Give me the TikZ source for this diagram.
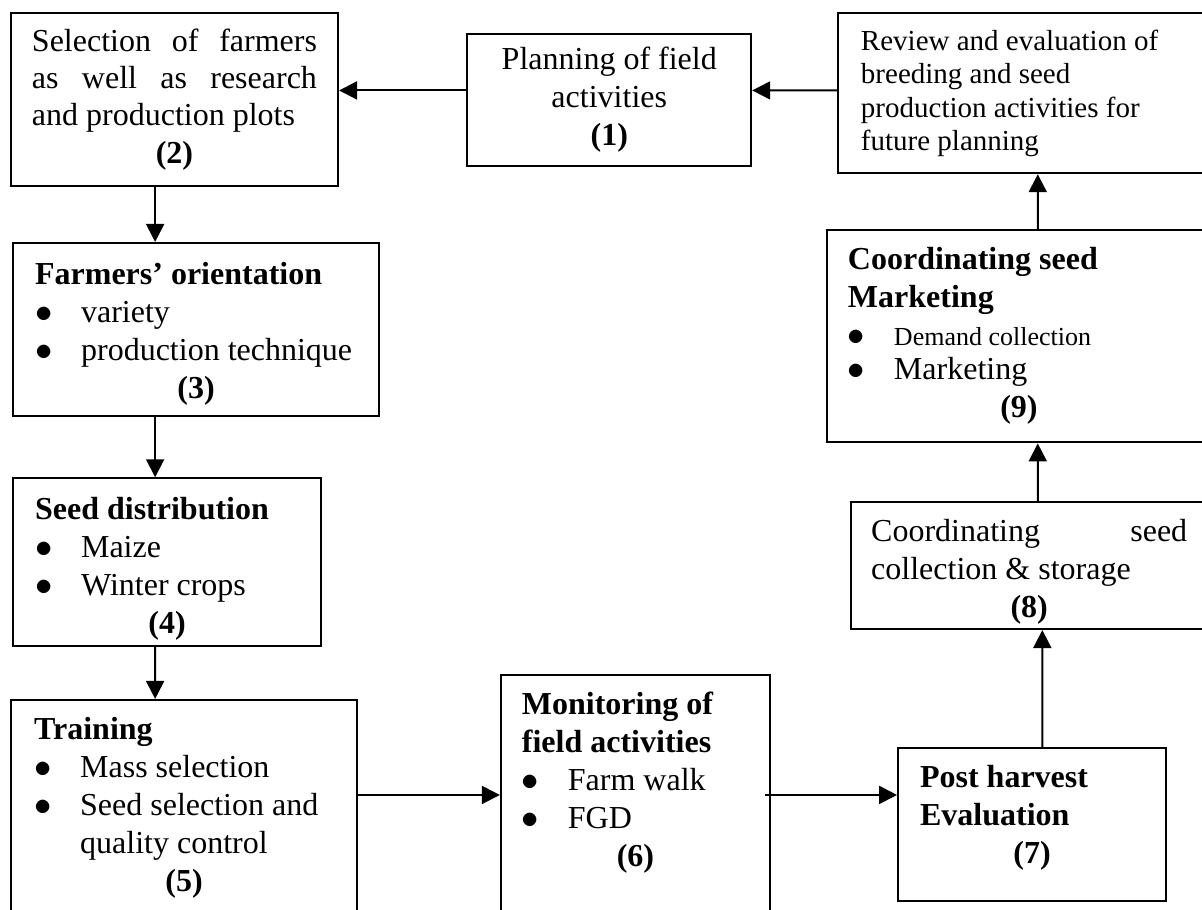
\documentclass[tikz,border=0pt]{standalone}
\usepackage{fontspec}
\setmainfont{Liberation Serif}
\usetikzlibrary{calc, arrows.meta}
\newcommand{\bul}[1]{\makebox[23pt][l]{$\bullet$}#1}
\newcommand{\num}[1]{\makebox[\hsize]{\textbf{(#1)}}}
\newcommand{\jline}[1]{\makebox[\hsize][s]{#1}}

\begin{document}
\begin{tikzpicture}
\tikzstyle{box} = [rectangle, draw=black, line width=1pt, align=left, inner sep=0pt, font=\fontsize{16}{19}\selectfont, execute at begin node={\spaceskip=0pt\xspaceskip=0pt\relax}]
\tikzstyle{arr} = [-{Triangle[length=9pt, width=9pt]}, line width=1pt]

\useasboundingbox (-3.066,-14.225) rectangle (18.056,1.749);

% top row
\node (n2) [box, minimum width=5.75cm, minimum height=3.04cm, text width=142.5pt, font=\fontsize{16}{18.6}\selectfont] {\jline{Selection of farmers}\\ \jline{as well as research}\\ and production plots\\ \num{2}};
\node (n1) [box, right of=n2, xshift=6.64cm, minimum width=4.99cm, minimum height=2.32cm, align=center] {Planning of field\\ activities\\ \textbf{(1)}};
\node (n10) [box, right of=n1, xshift=6.27cm, yshift=.11cm, minimum width=6.5cm, minimum height=2.81cm, text width=162pt, font=\fontsize{14.5}{16.7}\selectfont] {Review and evaluation of\\ breeding and seed\\ production activities for\\ future planning};

% left column
\node (n3) [box, below of=n2, xshift=.38cm, yshift=-3.04cm, minimum width=6.43cm, minimum height=3.04cm, text width=161pt] {\mbox{}\\[-4pt] \textbf{Farmers' orientation}\\ \bul{variety}\\ \bul{production technique}\\ \num{3}};
\node (n4) [box, below of=n3, xshift=-.51cm, yshift=-3.09cm, minimum width=5.41cm, minimum height=2.95cm, text width=132pt] {\mbox{}\\[-1.5pt] \textbf{Seed distribution}\\ \bul{Maize}\\ \bul{Winter crops}\\ \num{4}};
\node (n5) [box, below of=n4, xshift=.30cm, yshift=-3.31cm, minimum width=6.08cm, minimum height=3.78cm, text width=150pt] {\textbf{Training}\\ \bul{Mass selection}\\ \bul{Seed selection and}\\ \hspace*{23pt}quality control\\ \num{5}};

% bottom row
\node (n6) [box, right of=n5, xshift=6.93cm, yshift=.22cm, minimum width=4.73cm, minimum height=4.22cm, text width=113.5pt] {\textbf{Monitoring of}\\ \textbf{field activities}\\ \bul{Farm walk}\\ \bul{FGD}\\ \num{6}\\[-3pt] \mbox{}};
\node (n7) [box, right of=n6, xshift=5.97cm, yshift=-.52cm, minimum width=4.71cm, minimum height=2.69cm, text width=112pt] {\textbf{Post harvest}\\ \textbf{Evaluation}\\ \num{7}\\[-8.5pt] \mbox{}};

% right column
\node (n8) [box, above of=n7, xshift=-.05cm, yshift=3.55cm, minimum width=6.26cm, minimum height=2.23cm, text width=158pt] {\mbox{}\\[-2pt] \jline{Coordinating seed}\\ collection \& storage\\ \num{8}};
\node (n9) [box, above of=n8, xshift=-.18cm, yshift=3.03cm, minimum width=6.75cm, minimum height=3.73cm, text width=171pt] {\textbf{Coordinating seed}\\ \textbf{Marketing}\\ \bul{{\fontsize{13}{15}\selectfont Demand collection}}\\[-2pt] \bul{Marketing}\\ \num{9}};

\draw[arr] ($(n10.west) + (0,.05)$) -- ($(n1.east) + (0,.16)$);
\draw[arr] ($(n1.west) + (0,.16)$) -- ($(n2.east) + (0,.16)$);
\draw[arr] ($(n2.south) + (-.34,0)$) -- ($(n3.north) + (-.72,0)$);
\draw[arr] ($(n3.south) + (-.72,0)$) -- ($(n4.north) + (-.21,0)$);
\draw[arr] ($(n4.south) + (-.21,0)$) -- ($(n5.north) + (-.51,0)$);
\draw[arr] ($(n5.east) + (0,.22)$) -- (n6.west);
\draw[arr] ($(n6.east) + (-.1,0)$) -- ($(n7.west) + (0,.52)$);
\draw[arr] ($(n7.north) + (.18,0)$) -- ($(n8.south) + (.23,0)$);
\draw[arr] ($(n8.north) + (.15,0)$) -- ($(n9.south) + (.33,0)$);
\draw[arr] ($(n9.north) + (.33,0)$) -- ($(n10.south) + (.26,0)$);

\end{tikzpicture}
\end{document}
